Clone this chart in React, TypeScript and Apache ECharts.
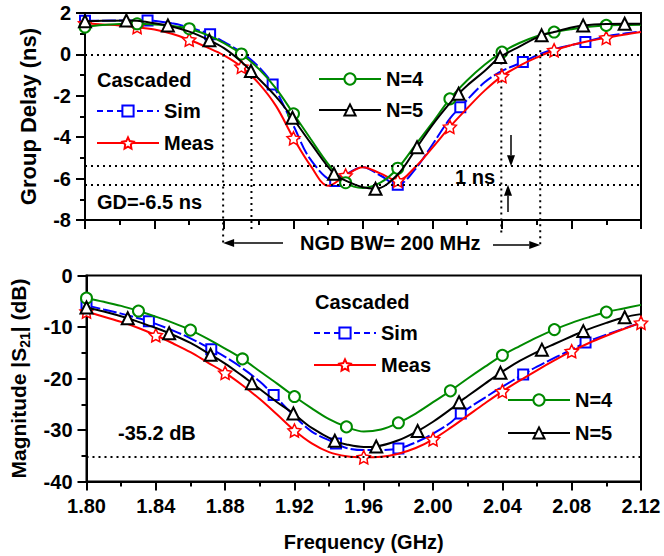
import React, { useEffect, useRef } from 'react';
import * as echarts from 'echarts';

const FONT = '"Liberation Sans", Arial, Helvetica, sans-serif';

// Frequency grid (GHz)
const FREQ = [1.80, 1.81, 1.82, 1.83, 1.84, 1.85, 1.86, 1.87, 1.88, 1.89, 1.90, 1.91, 1.92, 1.93, 1.94, 1.95, 1.96,
  1.97, 1.98, 1.99, 2.00, 2.01, 2.02, 2.03, 2.04, 2.05, 2.06, 2.07, 2.08, 2.09, 2.10, 2.11, 2.12];

// Group delay (ns)
const GD_SIM = [1.62, 1.63, 1.64, 1.64, 1.6, 1.5, 1.3, 1.02, 0.6, 0.1, -0.6, -2.0, -3.45, -5.1, -6.2, -5.8, -5.45,
  -5.85, -6.3, -5.55, -4.35, -3.1, -2.1, -1.35, -0.8, -0.4, -0.05, 0.25, 0.45, 0.7, 0.87, 1.0, 1.1];
const GD_MEAS = [1.5, 1.45, 1.4, 1.32, 1.2, 1.0, 0.71, 0.35, -0.05, -0.6, -1.4, -2.5, -4.05, -5.4, -6.35, -5.85, -5.45,
  -5.75, -6.1, -5.45, -4.5, -3.5, -2.6, -1.75, -1.05, -0.55, -0.15, 0.2, 0.45, 0.65, 0.8, 0.95, 1.08];
const GD_N4 = [1.32, 1.42, 1.47, 1.48, 1.45, 1.38, 1.24, 0.95, 0.55, 0.02, -0.7, -1.65, -2.87, -4.1, -5.3, -6.2, -6.45,
  -6.2, -5.5, -4.4, -3.3, -2.15, -1.25, -0.5, 0.11, 0.55, 0.88, 1.08, 1.22, 1.33, 1.40, 1.42, 1.43];
const GD_N5 = [1.6, 1.62, 1.64, 1.62, 1.5, 1.36, 1.1, 0.78, 0.3, -0.35, -1.15, -2.05, -3.1, -4.3, -5.5, -6.1, -6.42,
  -6.48, -5.8, -4.65, -3.4, -2.35, -1.5, -0.8, -0.08, 0.38, 0.8, 1.08, 1.3, 1.42, 1.47, 1.48, 1.48];

// Magnitude |S21| (dB)
const MAG_SIM = [-5.8, -6.6, -7.4, -8.3, -9.4, -10.7, -12.2, -13.9, -15.8, -18.0, -20.6, -23.9, -27.3, -30.3, -32.3,
  -33.5, -33.9, -33.9, -33.6, -32.4, -30.7, -28.6, -25.9, -23.7, -21.6, -19.6, -17.7, -16.0, -14.4, -12.8, -11.5, -10.3, -9.2];
const MAG_MEAS = [-7.0, -8.0, -9.0, -10.2, -11.6, -13.2, -14.9, -16.9, -18.9, -21.3, -24.0, -27.0, -30.1, -32.6, -34.3,
  -35.1, -35.3, -35.2, -34.6, -33.5, -31.8, -29.6, -27.2, -24.8, -22.5, -20.4, -18.4, -16.5, -14.7, -13.1, -11.7, -10.4, -9.2];
const MAG_N4 = [-4.4, -5.1, -5.9, -6.9, -8.0, -9.2, -10.6, -12.3, -14.2, -16.2, -18.6, -21.0, -23.5, -25.8, -27.9,
  -29.4, -30.3, -29.9, -28.6, -26.8, -24.6, -22.4, -20.0, -17.7, -15.5, -13.7, -12.0, -10.5, -9.2, -8.1, -7.1, -6.4, -5.7];
const MAG_N5 = [-6.2, -7.0, -7.9, -9.0, -10.2, -11.5, -13.1, -15.0, -17.1, -19.5, -22.0, -24.6, -27.0, -29.6, -31.6,
  -32.8, -33.3, -33.2, -32.0, -30.5, -28.4, -26.0, -23.4, -21.0, -18.7, -16.6, -14.8, -13.3, -11.8, -10.4, -9.2, -8.2, -7.5];

// Marker positions (frequencies) and their read values
const SIM_MF = [1.80, 1.836, 1.872, 1.908, 1.944, 1.98, 2.016, 2.052, 2.088];
const GD_SIM_M = [1.62, 1.64, 0.97, -1.45, -6.12, -6.3, -2.55, -0.37, 0.6];
const MAG_SIM_M = [-5.8, -8.9, -14.3, -23.2, -32.6, -33.6, -26.8, -19.2, -13.0];

const MEAS_GD_MF = [1.80, 1.83, 1.86, 1.89, 1.92, 1.95, 1.98, 2.01, 2.04, 2.07, 2.10];
const GD_MEAS_M = [1.5, 1.32, 0.71, -0.6, -4.05, -5.85, -6.1, -3.5, -1.05, 0.2, 0.8];
const MEAS_MAG_MF = [1.80, 1.84, 1.88, 1.92, 1.96, 2.00, 2.04, 2.08, 2.12];
const MAG_MEAS_M = [-7.0, -11.6, -18.9, -30.1, -35.3, -31.8, -22.5, -14.7, -9.2];

const N4_MF = [1.80, 1.83, 1.86, 1.89, 1.92, 1.95, 1.98, 2.01, 2.04, 2.07, 2.10];
const GD_N4_M = [1.32, 1.48, 1.24, 0.02, -2.87, -6.2, -5.5, -2.15, 0.11, 1.08, 1.40];
const MAG_N4_M = [-4.4, -6.9, -10.6, -16.2, -23.5, -29.4, -28.6, -22.4, -15.5, -10.5, -7.1];

const N5_MF = [1.80, 1.8238, 1.8477, 1.8716, 1.8955, 1.9194, 1.9433, 1.9672, 1.9911, 2.015, 2.0389, 2.0628, 2.0867, 2.1106];
const GD_N5_M = [1.6, 1.64, 1.40, 0.68, -0.8, -3.06, -5.77, -6.49, -4.48, -1.9, -0.13, 0.92, 1.4, 1.48];
const MAG_N5_M = [-6.2, -8.3, -11.2, -15.4, -20.9, -26.8, -32.1, -33.2, -30.2, -24.6, -18.9, -14.4, -10.8, -8.1];

// Reference (dotted) lines
const GD_REF = [0, -5.4, -6.3];
const MAG_REF = [-35.2];
const NGD_F = [1.8795, 1.8958, 2.0396, 2.062];
const NGD_FROM = [0, -0.8, -0.1, 0.2];
const NGD_TO = [-9.2, -8.5, -8.65, -9.3];

const X_TICKS_MIN = 1.8;
const X_TICKS_MAX = 2.12;

const STAR = 'path://M0,-10L2.94,-4.05L9.51,-3.09L4.76,1.55L5.88,8.09L0,5L-5.88,8.09L-4.76,1.55L-9.51,-3.09L-2.94,-4.05Z';

const BLUE = '#0000ff';
const RED = '#ff0000';
const GREEN = '#008a00';
const BLACK = '#000000';

function merge(gridF: number[], gridV: number[], markF: number[], markV: number[]) {
  const pts: any[] = [];
  gridF.forEach((f, i) => {
    if (!markF.some((m) => Math.abs(m - f) < 0.0049)) pts.push({ value: [f, gridV[i]], symbol: 'none' });
  });
  markF.forEach((f, i) => pts.push({ value: [f, markV[i]] }));
  pts.sort((a, b) => a.value[0] - b.value[0]);
  return pts;
}

const labelStyle = { color: '#000', fontSize: 20, fontWeight: 'bold', fontFamily: FONT };

function xAxis(gi: number, showLabel: boolean) {
  return {
    type: 'value', gridIndex: gi, min: X_TICKS_MIN, max: X_TICKS_MAX, interval: 0.04,
    axisLine: { show: true, onZero: false, lineStyle: { color: '#000', width: 2 } },
    axisTick: { show: true, inside: false, length: 9, lineStyle: { color: '#000', width: 2 } },
    minorTick: { show: true, splitNumber: 2, length: 5, lineStyle: { color: '#000', width: 2 } },
    splitLine: { show: false },
    axisLabel: { show: showLabel, margin: 14, ...labelStyle, formatter: (v: number) => v.toFixed(2) },
    name: showLabel ? 'Frequency (GHz)' : '',
    nameLocation: 'middle', nameGap: 50,
    nameTextStyle: { ...labelStyle, fontSize: 20 },
  };
}

function yAxis(gi: number, min: number, max: number, interval: number, name: any, nameGap: number, nameStyle: any) {
  return {
    type: 'value', gridIndex: gi, min, max, interval,
    axisLine: { show: true, onZero: false, lineStyle: { color: '#000', width: 2 } },
    axisTick: { show: true, inside: false, length: 9, lineStyle: { color: '#000', width: 2 } },
    minorTick: { show: true, splitNumber: 2, length: 5, lineStyle: { color: '#000', width: 2 } },
    splitLine: { show: false },
    axisLabel: { margin: 14, ...labelStyle },
    name, nameLocation: 'middle', nameGap, nameRotate: 90,
    nameTextStyle: nameStyle,
  };
}

function lineSeries(name: string, gi: number, data: any[], color: string, symbol: string, size: number, dashed: boolean, z: number, refLines?: number[]) {
  const isStar = symbol === STAR;
  const s: any = {
    type: 'line', name, xAxisIndex: gi, yAxisIndex: gi, data,
    smooth: 0.35, symbol, symbolSize: size, showSymbol: true, showAllSymbol: true, clip: true, z,
    lineStyle: { color, width: 2, type: dashed ? [14, 3] : 'solid' },
    itemStyle: isStar ? { color: '#ffffff', borderColor: color, borderWidth: 1.5 } : { color, borderColor: color, borderWidth: 1.5 },
    emphasis: { disabled: true },
  };
  if (refLines) {
    s.markLine = {
      silent: true, symbol: 'none', label: { show: false },
      lineStyle: { color: '#000', width: 2, type: [2, 4] },
      data: refLines.map((v) => ({ yAxis: v })),
    };
  }
  return s;
}

function legend(left: number, top: number, gap: number, data: any[]) {
  return {
    orient: 'vertical', left, top, itemGap: gap, itemWidth: 62, itemHeight: 14, padding: 0,
    selectedMode: false, data,
    textStyle: { color: '#000', fontSize: 20, fontWeight: 'bold', fontFamily: FONT, lineHeight: 22 },
  };
}

function buildOption() {
  const simLegend = { name: 'Sim', lineStyle: { type: [6, 4] } };
  return {
    animation: false,
    backgroundColor: '#ffffff',
    textStyle: { fontFamily: FONT },
    grid: [
      { left: 85, top: 13, width: 556, height: 207, show: true, borderColor: '#000', borderWidth: 2, backgroundColor: 'transparent' },
      { left: 85, top: 275.5, width: 556, height: 206, show: true, borderColor: '#000', borderWidth: 2, backgroundColor: 'transparent' },
    ],
    xAxis: [xAxis(0, false), xAxis(1, true)],
    yAxis: [
      yAxis(0, -8, 2, 2, 'Group Delay (ns)', 46, { ...labelStyle, fontSize: 22 }),
      yAxis(1, -40, 0, 10, '{a|Magnitude |S}{s|21}{a|| (dB)}', 55, {
        rich: {
          a: { ...labelStyle, fontSize: 21, lineHeight: 26 },
          s: { ...labelStyle, fontSize: 14, lineHeight: 14, verticalAlign: 'bottom' },
        },
      }),
    ],
    legend: [
      legend(96, 100, 10, [simLegend, 'Meas']),
      legend(318, 68, 9, ['N=4', 'N=5']),
      legend(313, 322, 10, [simLegend, 'Meas']),
      legend(507, 389, 11, ['N=4', 'N=5']),
    ],
    series: [
      lineSeries('Sim', 0, merge(FREQ, GD_SIM, SIM_MF, GD_SIM_M), BLUE, 'emptyRect', 10, true, 2),
      lineSeries('Meas', 0, merge(FREQ, GD_MEAS, MEAS_GD_MF, GD_MEAS_M), RED, STAR, 13, false, 3),
      lineSeries('N=4', 0, merge(FREQ, GD_N4, N4_MF, GD_N4_M), GREEN, 'emptyCircle', 11, false, 4),
      lineSeries('N=5', 0, merge(FREQ, GD_N5, N5_MF, GD_N5_M), BLACK, 'emptyTriangle', 12, false, 5, GD_REF),
      lineSeries('Sim', 1, merge(FREQ, MAG_SIM, SIM_MF, MAG_SIM_M), BLUE, 'emptyRect', 10, true, 2),
      lineSeries('Meas', 1, merge(FREQ, MAG_MEAS, MEAS_MAG_MF, MAG_MEAS_M), RED, STAR, 13, false, 3),
      lineSeries('N=4', 1, merge(FREQ, MAG_N4, N4_MF, MAG_N4_M), GREEN, 'emptyCircle', 11, false, 4),
      lineSeries('N=5', 1, merge(FREQ, MAG_N5, N5_MF, MAG_N5_M), BLACK, 'emptyTriangle', 12, false, 5, MAG_REF),
    ],
  };
}

function arrow(x1: number, y1: number, x2: number, y2: number) {
  const dx = x2 - x1, dy = y2 - y1;
  const L = Math.hypot(dx, dy);
  const ux = dx / L, uy = dy / L;
  const hl = 11, hw = 4;
  const bx = x2 - ux * hl, by = y2 - uy * hl;
  return [
    { type: 'line', silent: true, shape: { x1, y1, x2: bx, y2: by }, style: { stroke: '#000', lineWidth: 1.5 } },
    { type: 'polygon', silent: true, shape: { points: [[x2, y2], [bx - uy * hw, by + ux * hw], [bx + uy * hw, by - ux * hw]] }, style: { fill: '#000' } },
  ];
}

function text(str: string, x: number, y: number) {
  return {
    type: 'text', x, y, silent: true, z: 10,
    style: { text: str, fill: '#000', fontSize: 20, fontWeight: 'bold', fontFamily: FONT, align: 'left', verticalAlign: 'middle' },
  };
}

function buildGraphic(chart: any) {
  const px = (gi: number, f: number, v: number) => chart.convertToPixel({ gridIndex: gi }, [f, v]) as number[];
  const els: any[] = [];
  const dot = { stroke: '#000', lineWidth: 2, lineDash: [2, 4] };
  NGD_F.forEach((f, i) => {
    const a = px(0, f, NGD_FROM[i]);
    const b = px(0, f, NGD_TO[i]);
    els.push({ type: 'line', silent: true, shape: { x1: a[0], y1: a[1], x2: b[0], y2: b[1] }, style: dot });
  });
  const leftTip = px(0, NGD_F[0], 0)[0];
  const rightTip = px(0, NGD_F[3], 0)[0];
  els.push(...arrow(283, 243, leftTip, 243));
  els.push(...arrow(493, 245, rightTip, 245));
  const yHi = px(0, 2.04, GD_REF[1])[1];
  const yLo = px(0, 2.04, GD_REF[2])[1];
  els.push(...arrow(511, 135, 511, yHi));
  els.push(...arrow(508, 212, 508, yLo));
  els.push(text('NGD BW= 200 MHz', 300, 243));
  els.push(text('1 ns', 455, 177));
  els.push(text('GD=-6.5 ns', 97, 202));
  els.push(text('Cascaded', 97, 80));
  els.push(text('Cascaded', 315, 302));
  els.push(text('-35.2 dB', 118, 433));
  return els;
}

export default function App() {
  const ref = useRef<HTMLDivElement>(null);
  useEffect(() => {
    const chart = echarts.init(ref.current as HTMLDivElement, null, { renderer: 'svg' });
    chart.setOption(buildOption() as any);
    chart.setOption({ graphic: buildGraphic(chart) } as any);
    return () => chart.dispose();
  }, []);
  return (
    <div
      ref={ref}
      style={{ position: 'fixed', left: 0, top: 0, width: 664, height: 556, background: '#fff' }}
    />
  );
}
